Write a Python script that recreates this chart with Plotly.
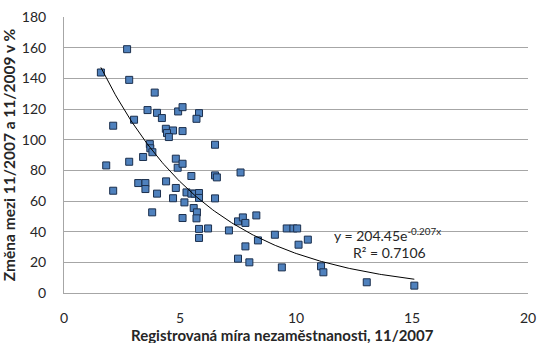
import numpy as np
import plotly.graph_objects as go

# Registered unemployment rate 11/2007 (%)
unemployment = [
    2.72, 1.59, 2.81, 3.91, 3.60, 4.01, 4.22, 4.92, 3.02, 2.12,
    4.39, 4.70, 4.44, 4.52, 3.70, 3.72, 3.81, 3.41, 2.81, 4.82,
    1.82, 4.90, 5.11, 4.40, 3.20, 3.51, 3.51, 2.12, 4.01, 4.82,
    4.70, 3.80, 5.11, 5.11, 5.82, 5.71, 5.11, 6.51, 7.61, 6.51,
    6.59, 5.49, 5.28, 5.49, 5.63, 5.82, 5.82, 6.51, 5.19, 5.59,
    5.73, 5.71, 5.82, 6.21, 5.82, 7.11, 7.50, 7.71, 7.82, 8.29,
    8.36, 7.82, 7.50, 7.99, 9.09, 9.60, 9.89, 10.05, 10.11, 10.51,
    9.39, 11.08, 11.18, 13.05, 15.10,
]
# Change between 11/2007 and 11/2009 (%)
change = [
    159.0, 143.8, 139.0, 130.7, 119.3, 117.5, 114.1, 118.4, 113.0, 109.1,
    107.1, 106.0, 104.3, 101.7, 97.1, 94.4, 91.8, 88.7, 85.6, 87.6,
    83.2, 81.7, 84.3, 72.8, 71.7, 71.7, 67.8, 66.7, 64.8, 68.5,
    61.8, 52.6, 48.9, 121.2, 117.3, 113.6, 105.6, 96.7, 78.6, 76.7,
    75.4, 76.3, 65.6, 64.8, 64.8, 65.2, 62.0, 61.7, 59.1, 55.4,
    52.6, 48.7, 41.8, 42.1, 35.9, 40.8, 46.7, 49.3, 45.7, 50.6,
    34.3, 30.4, 22.4, 20.0, 38.0, 42.1, 42.1, 42.1, 31.5, 34.8,
    16.7, 17.4, 13.5, 7.0, 4.8,
]

# Trendline parameters (Excel exponential fit)
trend_a = 204.45
trend_b = -0.207
trend_label = "y = 204.45e<sup>-0.207x</sup>"
r2_label = "R² = 0.7106"

x_title = "Registrovaná míra nezaměstnanosti, 11/2007"
y_title = "Změna mezi 11/2007 a 11/2009 v %"

x_ticks = [0, 5, 10, 15, 20]
y_ticks = [0, 20, 40, 60, 80, 100, 120, 140, 160, 180]

FONT = "Lato, 'Open Sans', sans-serif"
TXT = "#262626"

tx = np.linspace(min(unemployment), max(unemployment), 200)
ty = trend_a * np.exp(trend_b * tx)

fig = go.Figure()
fig.add_trace(go.Scatter(
    x=unemployment, y=change, mode="markers",
    marker=dict(symbol="square", size=7, color="#4F81BD",
                line=dict(color="#1B2F4D", width=1)),
    showlegend=False,
))
fig.add_trace(go.Scatter(
    x=tx, y=ty, mode="lines",
    line=dict(color="black", width=1),
    showlegend=False, hoverinfo="skip",
))

fig.add_annotation(x=11.57, y=38, xref="x", yref="y", text=trend_label,
                   showarrow=False, xanchor="left", yanchor="middle",
                   font=dict(family=FONT, size=14, color=TXT))
fig.add_annotation(x=12.35, y=26.3, xref="x", yref="y", text=r2_label,
                   showarrow=False, xanchor="left", yanchor="middle",
                   font=dict(family=FONT, size=14, color=TXT))
# x-axis title (placed slightly left of centre, as in the original)
fig.add_annotation(x=0.47, y=-0.152, xref="paper", yref="paper",
                   text="<b>" + x_title + "</b>", showarrow=False,
                   xanchor="center", yanchor="middle",
                   font=dict(family=FONT, size=15, color=TXT))

fig.update_xaxes(
    range=[0, 20], tickvals=x_ticks, showgrid=False, zeroline=False,
    showline=True, linecolor="#A6A6A6", linewidth=1,
    tickfont=dict(family=FONT, size=14, color=TXT),
    ticks="", ticklabelstandoff=12,
)
fig.update_yaxes(
    range=[0, 180], tickvals=y_ticks, showgrid=True, gridcolor="#A6A6A6",
    gridwidth=1, zeroline=False, showline=True, linecolor="#A6A6A6",
    linewidth=1,
    tickfont=dict(family=FONT, size=14, color=TXT),
    ticks="", ticklabelstandoff=14,
    title=dict(text="<b>" + y_title + "</b>", standoff=5,
               font=dict(family=FONT, size=15.5, color=TXT)),
)
fig.update_layout(
    width=539, height=343,
    margin=dict(l=64, r=11, t=17, b=50, autoexpand=False),
    plot_bgcolor="white", paper_bgcolor="white",
)
fig.write_html("out.html", config={"displayModeBar": False},
               post_script="document.body.style.margin='0';document.body.style.overflow='hidden';")
